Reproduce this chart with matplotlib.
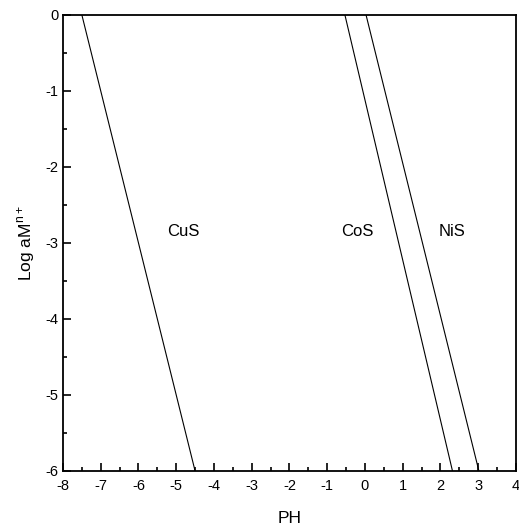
import matplotlib
matplotlib.use('Agg')
import matplotlib.pyplot as plt
from matplotlib.ticker import MultipleLocator

plt.rcParams['font.family'] = ['Liberation Sans', 'DejaVu Sans']
plt.rcParams['axes.unicode_minus'] = False

# sulfide precipitation boundaries: (pH at log a = 0, pH at log a = -6)
sulfides = ['CuS', 'CoS', 'NiS']
ph_top = [-7.5, -0.53, 0.03]
ph_bottom = [-4.5, 2.32, 3.02]
log_a = [0, -6]

# label positions (pH, log a)
label_x = [-4.8, -0.2, 2.3]
label_y = [-2.85, -2.85, -2.85]

fig = plt.figure(figsize=(5.19, 5.31), dpi=100)
ax = fig.add_axes([0.1214, 0.113, 0.8726, 0.8588])

for top, bottom in zip(ph_top, ph_bottom):
    ax.plot([top, bottom], log_a, color='black', linewidth=0.8)

for name, x, y in zip(sulfides, label_x, label_y):
    ax.text(x, y, name, fontsize=12, ha='center', va='center')

ax.set_xlim(-8, 4)
ax.set_ylim(-6, 0)
ax.xaxis.set_major_locator(MultipleLocator(1))
ax.xaxis.set_minor_locator(MultipleLocator(0.5))
ax.yaxis.set_major_locator(MultipleLocator(1))
ax.yaxis.set_minor_locator(MultipleLocator(0.5))
ax.tick_params(which='major', direction='in', length=6, width=1.2, labelsize=10.5)
ax.tick_params(which='minor', direction='in', length=3, width=1.2)
ax.tick_params(axis='x', pad=6)
for spine in ax.spines.values():
    spine.set_linewidth(1.3)

ax.set_xlabel('PH', fontsize=12.5, labelpad=13)
ax.set_ylabel('Log aM$^{\\mathregular{n+}}$', fontsize=12.5, labelpad=6)

fig.savefig('out.png', dpi=100)
